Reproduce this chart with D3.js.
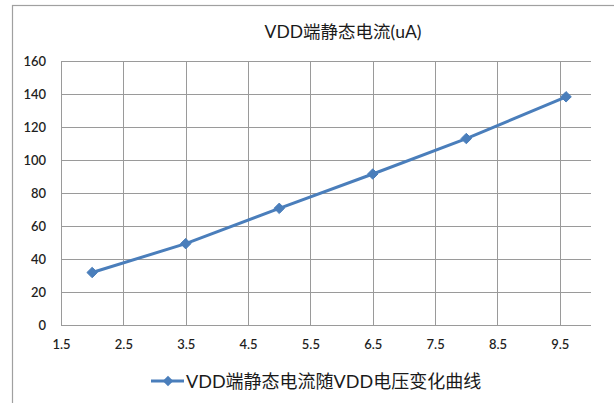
<!DOCTYPE html>
<html>
<head>
<meta charset="utf-8">
<script src="https://cdn.jsdelivr.net/npm/d3@7"></script>
<style>
  body { margin: 0; background: #fff; }
  text { font-family: Lato, "Noto Sans CJK SC", sans-serif; }
</style>
</head>
<body>
<div id="vis"></div>
<script>
var titleText = "VDD端静态电流(uA)";
var seriesName = "VDD端静态电流随VDD电压变化曲线";
var voltage = [2, 3.5, 5, 6.5, 8, 9.6];
var current = [31.8, 49.3, 70.7, 91.5, 113, 138.3];
var xTicks = [1.5, 2.5, 3.5, 4.5, 5.5, 6.5, 7.5, 8.5, 9.5];
var yTicks = [0, 20, 40, 60, 80, 100, 120, 140, 160];

var outer_width = 614;
var outer_height = 403;
var margin = {top: 61, right: 23, bottom: 78, left: 61};
var svg_width = outer_width - margin.left - margin.right;
var svg_height = outer_height - margin.top - margin.bottom;

var root = d3.select("#vis")
  .append("svg")
  .attr("width", outer_width)
  .attr("height", outer_height);

// chart frame (runs off right and bottom)
root.append("rect")
  .attr("x", 12.5)
  .attr("y", 5.5)
  .attr("width", 700)
  .attr("height", 500)
  .style("fill", "none")
  .style("stroke", "#a0a0a0")
  .style("stroke-width", 1.2);

root.append("text")
  .attr("x", 343)
  .attr("y", 38)
  .style("text-anchor", "middle")
  .style("font-size", "17.5px")
  .style("fill", "#1a1a1a")
  .text(titleText);

var svg = root.append("g")
  .attr("transform", "translate(" + margin.left + "," + margin.top + ")");

var xScale = d3.scaleLinear()
  .domain([1.5, 10])
  .range([0, svg_width]);

var yScale = d3.scaleLinear()
  .domain([0, 160])
  .range([svg_height, 0]);

// grid
svg.append("g")
  .selectAll("line")
  .data(yTicks)
  .enter()
  .append("line")
  .attr("x1", 0)
  .attr("x2", svg_width)
  .attr("y1", function(d){ return Math.round(yScale(d)) + 0.5; })
  .attr("y2", function(d){ return Math.round(yScale(d)) + 0.5; })
  .style("stroke", "#9a9a9a");

svg.append("g")
  .selectAll("line")
  .data(xTicks)
  .enter()
  .append("line")
  .attr("x1", function(d){ return Math.round(xScale(d)) + 0.5; })
  .attr("x2", function(d){ return Math.round(xScale(d)) + 0.5; })
  .attr("y1", 0)
  .attr("y2", svg_height)
  .style("stroke", "#9a9a9a");

// axes labels
var yAxis = svg.append("g")
  .call(d3.axisLeft(yScale).tickValues(yTicks).tickSize(0).tickPadding(15));
var xAxis = svg.append("g")
  .attr("transform", "translate(0," + svg_height + ")")
  .call(d3.axisBottom(xScale).tickValues(xTicks).tickSize(0).tickPadding(15).tickFormat(d3.format(".1f")));

[yAxis, xAxis].forEach(function(a){
  a.select(".domain").remove();
  a.selectAll("text")
    .style("font-family", "Lato, sans-serif")
    .style("font-size", "13px")
    .style("font-weight", "600")
    .style("fill", "#1f1f1f");
});

var pts = voltage.map(function(v, i){ return {x: v, y: current[i]}; });

var line = d3.line()
  .x(function(d){ return xScale(d.x); })
  .y(function(d){ return yScale(d.y); });

svg.append("path")
  .datum(pts)
  .attr("d", line)
  .style("fill", "none")
  .style("stroke", "#4a7ebb")
  .style("stroke-width", 3);

var diamond = d3.symbol().type(d3.symbolDiamond2).size(70);

svg.selectAll(".marker")
  .data(pts)
  .enter()
  .append("path")
  .attr("class", "marker")
  .attr("d", diamond)
  .attr("transform", function(d){ return "translate(" + xScale(d.x) + "," + yScale(d.y) + ")"; })
  .style("fill", "#4a7ebb")
  .style("stroke", "#4a7ebb")
  .style("stroke-width", 1);

// legend
var legend = root.append("g")
  .attr("transform", "translate(151,381)");
legend.append("line")
  .attr("x1", 0)
  .attr("x2", 33)
  .style("stroke", "#4a7ebb")
  .style("stroke-width", 3);
legend.append("path")
  .attr("d", diamond)
  .attr("transform", "translate(17,0)")
  .style("fill", "#4a7ebb");
legend.append("text")
  .attr("x", 35)
  .attr("y", 6.5)
  .style("font-size", "18px")
  .style("fill", "#1a1a1a")
  .text(seriesName);
</script>
</body>
</html>
